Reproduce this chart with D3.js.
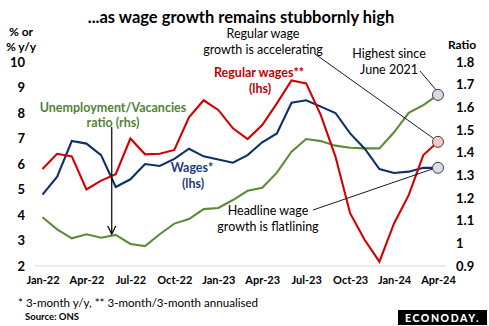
<!DOCTYPE html>
<html><head><meta charset="utf-8">
<script src="https://cdn.jsdelivr.net/npm/d3@7"></script>
<style>body{margin:0;background:#fff}svg{display:block}text{font-family:Lato,"Open Sans",sans-serif}</style>
</head><body><svg id="c" width="489" height="326"></svg>
<script>
const months = ["Jan-22","Feb-22","Mar-22","Apr-22","May-22","Jun-22","Jul-22","Aug-22","Sep-22","Oct-22","Nov-22","Dec-22",
 "Jan-23","Feb-23","Mar-23","Apr-23","May-23","Jun-23","Jul-23","Aug-23","Sep-23","Oct-23","Nov-23","Dec-23",
 "Jan-24","Feb-24","Mar-24","Apr-24"];
const tickLabels = ["Jan-22","Apr-22","Jul-22","Oct-22","Jan-23","Apr-23","Jul-23","Oct-23","Jan-24","Apr-24"];
const wages = [4.8,5.5,6.9,6.8,6.35,5.1,5.4,6.0,5.92,6.2,6.6,6.3,6.18,6.05,6.35,6.85,7.2,8.4,8.5,8.25,8.0,7.2,6.6,5.8,5.65,5.7,5.85,5.85];
const regularWages = [5.8,6.4,6.3,5.0,5.35,5.6,7.0,6.38,6.4,6.55,7.83,8.5,8.12,7.4,6.98,7.53,8.38,9.28,9.16,7.92,6.29,4.07,3.02,2.17,3.67,4.78,6.35,6.87];
const uvRatio = [1.115,1.062,1.022,1.04,1.025,1.037,0.997,0.988,1.04,1.087,1.107,1.151,1.156,1.191,1.232,1.245,1.312,1.404,1.46,1.451,1.431,1.422,1.419,1.419,1.49,1.576,1.61,1.655];
const leftTicks = [2,3,4,5,6,7,8,9,10];
const rightTicks = [0.9,1.0,1.1,1.2,1.3,1.4,1.5,1.6,1.7,1.8];

const svg = d3.select("#c");
const x = d3.scalePoint().domain(months).range([42.5, 438]);
const yL = d3.scaleLinear().domain([2,10]).range([266,62]);
const yR = d3.scaleLinear().domain([0.9,1.8]).range([266,62]);

// title
svg.append("text").attr("x",241).attr("y",23).attr("text-anchor","middle")
  .attr("font-size",16.5).attr("font-weight","bold").attr("fill","#000")
  .text("...as wage growth remains stubbornly high");

// baseline grid
svg.append("line").attr("x1",35).attr("x2",446).attr("y1",yL(2)).attr("y2",yL(2))
  .attr("stroke","#d9d9d9").attr("stroke-width",1);

// left axis
const gl = svg.append("g").attr("transform","translate(25,0)")
  .call(d3.axisLeft(yL).tickValues(leftTicks).tickSize(0).tickPadding(0).tickFormat(d3.format("d")));
gl.select(".domain").remove();
gl.selectAll("text").attr("font-size",13).attr("font-weight","bold").attr("fill","#000").attr("font-family","Lato");

// right axis
const gr = svg.append("g").attr("transform","translate(456,0)")
  .call(d3.axisRight(yR).tickValues(rightTicks).tickSize(0).tickPadding(0).tickFormat(d=> d===1?"1":d3.format(".1f")(d)));
gr.select(".domain").remove();
gr.selectAll("text").attr("font-size",13).attr("font-weight","bold").attr("fill","#000").attr("font-family","Lato");

// x axis
const gx = svg.append("g").attr("transform","translate(0,276)")
  .call(d3.axisBottom(x).tickValues(tickLabels).tickSize(0).tickPadding(0));
gx.select(".domain").remove();
gx.selectAll("text").attr("font-size",11).attr("font-weight","bold").attr("fill","#000").attr("dy","0.71em").attr("font-family","Lato");

// axis titles
svg.append("text").attr("x",21).attr("y",36).attr("text-anchor","middle").attr("font-size",12).attr("font-weight","bold").text("% or");
svg.append("text").attr("x",21).attr("y",51).attr("text-anchor","middle").attr("font-size",12).attr("font-weight","bold").text("% y/y");
svg.append("text").attr("x",462).attr("y",49).attr("text-anchor","middle").attr("font-size",12).attr("font-weight","bold").text("Ratio");

// lines
const lineL = d3.line().x((d,i)=>x(months[i])).y(d=>yL(d));
const lineR = d3.line().x((d,i)=>x(months[i])).y(d=>yR(d));
svg.append("path").datum(uvRatio).attr("d",lineR).attr("fill","none").attr("stroke","#5b8c3a").attr("stroke-width",2.1);
svg.append("path").datum(wages).attr("d",lineL).attr("fill","none").attr("stroke","#0f2f6b").attr("stroke-width",2.1);
svg.append("path").datum(regularWages).attr("d",lineL).attr("fill","none").attr("stroke","#d40000").attr("stroke-width",2.1);

// annotation leader lines
const last = months[months.length-1];
function leader(x1,y1,x2,y2){svg.append("line").attr("x1",x1).attr("y1",y1).attr("x2",x2).attr("y2",y2).attr("stroke","#000").attr("stroke-width",0.9);}
leader(315,54, x(last)-4, yL(regularWages[27])-3);
leader(420,71, x(last)-2, yR(uvRatio[27])-5);
leader(313,210, x(last)-5, yL(wages[27])+1);

// end circles
svg.append("circle").attr("cx",x(last)).attr("cy",yR(uvRatio[27])).attr("r",5.5).attr("fill","#d6dce5").attr("stroke","#404040").attr("stroke-width",1);
svg.append("circle").attr("cx",x(last)).attr("cy",yL(regularWages[27])).attr("r",5.5).attr("fill","#f5c9c9").attr("stroke","#404040").attr("stroke-width",1);
svg.append("circle").attr("cx",x(last)).attr("cy",yL(wages[27])).attr("r",5.5).attr("fill","#d6dce5").attr("stroke","#404040").attr("stroke-width",1);

// arrow
const ax = x(months[5])-4;
svg.append("line").attr("x1",ax).attr("x2",ax).attr("y1",127).attr("y2",233).attr("stroke","#000").attr("stroke-width",1.2);
svg.append("path").attr("d",`M${ax-4},${226} L${ax},${234} L${ax+4},${226}`).attr("fill","none").attr("stroke","#000").attr("stroke-width",1.3);

// labels
function label(txt,xx,yy,col,bold,size){svg.append("text").attr("x",xx).attr("y",yy).attr("text-anchor","middle")
  .attr("font-size",size||12.5).attr("font-weight",bold?"bold":"normal").attr("fill",col).text(txt);}
label("Regular wage",263,38,"#000",false);
label("growth is accelerating",263,54,"#000",false);
label("Highest since",389,58,"#000",false);
label("June 2021",389,74,"#000",false);
label("Regular wages**",259,77,"#c00000",true);
label("(lhs)",260,93,"#c00000",true);
label("Unemployment/Vacancies",113,112,"#548235",true);
label("ratio (rhs)",113,127,"#548235",true);
label("Wages*",192,172,"#1f3d7a",true);
label("(lhs)",193,188,"#1f3d7a",true);
label("Headline wage",268,215,"#000",false);
label("growth is flatlining",268,231,"#000",false);

// footnotes
svg.append("text").attr("x",18).attr("y",307).attr("font-size",11.6).attr("fill","#000").text("* 3-month y/y, ** 3-month/3-month annualised");
svg.append("text").attr("x",25).attr("y",320).attr("font-size",9.5).attr("font-weight","bold").attr("fill","#000").text("Source: ONS");

// logo
svg.append("rect").attr("x",398).attr("y",310).attr("width",89).attr("height",15).attr("fill","#000");
svg.append("text").attr("x",442.5).attr("y",321.5).attr("text-anchor","middle").attr("font-size",10.5).attr("font-weight","900")
  .attr("letter-spacing",1.6).attr("fill","#fff").text("ECONODAY.");
</script></body></html>
